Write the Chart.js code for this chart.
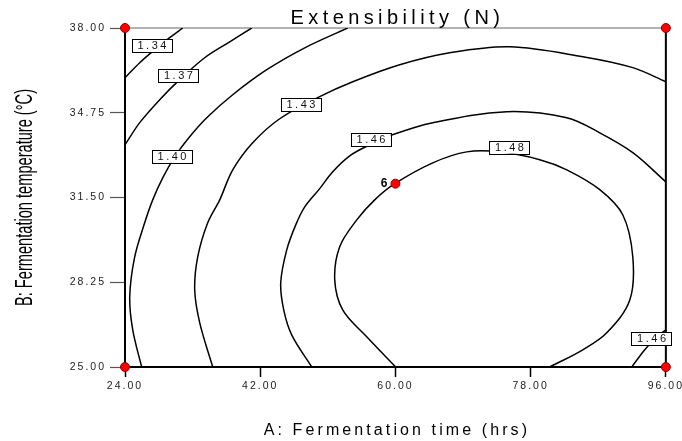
<!DOCTYPE html>
<html><head><meta charset="utf-8">
<script src="https://cdn.jsdelivr.net/npm/chart.js@4.4.1/dist/chart.umd.min.js"></script>
<style>html,body{margin:0;padding:0;background:#fff;overflow:hidden}#wrap{width:682px;height:441px;position:relative}</style>
</head><body><div id="wrap"><canvas id="c" width="682" height="441"></canvas></div>
<script>
// ---- data ----
const chartTitle = 'Extensibility (N)';
const xTitle = 'A: Fermentation time (hrs)';
const yTitle = 'B: Fermentation temperature (\u00B0C)';
const xTicks = [24, 42, 60, 78, 96];
const yTicks = [25, 28.25, 31.5, 34.75, 38];

const c134x = [31.68, 29.95, 27.95, 25.96, 24];
const c134y = [38, 37.63, 37.17, 36.67, 36.09];
const c137x = [40.87, 37.94, 34.61, 31.28, 28.62, 25.96, 24];
const c137y = [38, 37.47, 36.86, 36.02, 35.25, 34.37, 33.52];
const c140x = [53.65, 47.93, 42.87, 38.34, 34.88, 32.61, 30.62, 29.02, 27.69, 26.62, 25.29, 24.63, 25.03, 26.22];
const c140y = [38, 37.24, 36.40, 35.44, 34.56, 33.83, 33.06, 32.25, 31.41, 30.53, 29.22, 27.69, 26.42, 25];
const c143x = [96, 91.60, 84.94, 75.22, 67.23, 60.57, 54.32, 49.92, 44.60, 41.00, 38.34, 36.61, 35.01, 33.68, 33.28, 33.95, 35.68];
const c143y = [35.94, 36.48, 36.90, 37.28, 37.05, 36.59, 35.94, 35.37, 34.52, 33.60, 32.56, 31.41, 30.53, 29.22, 27.96, 26.69, 25];
const c146x = [96, 91.60, 87.20, 82.81, 74.82, 64.97, 59.24, 56.58, 53.92, 51.65, 49.92, 47.93, 46.73, 45.53, 44.73, 45.13, 46.19, 48.86];
const c146y = [32.10, 33.22, 33.98, 34.56, 34.79, 34.37, 33.87, 33.52, 33.10, 32.49, 31.84, 31.14, 30.45, 29.49, 28.23, 27.19, 26.23, 25];
const c146bx = [91.46, 93.19, 94.79, 96];
const c146by = [25, 25.66, 26.16, 26.42];
const c148x = [60.04, 56.18, 52.98, 51.92, 52.58, 54.85, 57.24, 59.91, 64.97, 69.49, 73.89, 79.21, 82.81, 87.20, 90.26, 91.60, 91.20, 88.13, 84.94, 80.54];
const c148y = [25, 26.16, 27.19, 28.34, 29.61, 30.64, 31.41, 32.03, 32.83, 33.25, 33.25, 32.95, 32.56, 31.80, 30.84, 29.22, 27.57, 26.31, 25.66, 25];

const contourXs = [c134x, c137x, c140x, c143x, c146x, c146bx, c148x];
const contourYs = [c134y, c137y, c140y, c143y, c146y, c146by, c148y];

const labelText = ['1.34', '1.37', '1.40', '1.43', '1.46', '1.48', '1.46'];
const labelX = [27.55, 31.08, 30.22, 47.39, 56.71, 75.15, 94.06];
const labelY = [37.32, 36.17, 33.08, 35.06, 33.71, 33.43, 26.08];

const designX = [24, 96, 24, 96, 60];
const designY = [38, 38, 25, 25, 32.03];
const designLabel = ['', '', '', '', '6'];

// ---- chart ----
const FONT = '"Liberation Sans", Arial, sans-serif';
Chart.defaults.font.family = FONT;

const toPts = (xs, ys) => xs.map((x, i) => ({ x: x, y: ys[i] }));

const datasets = [{
  label: 'design points',
  data: toPts(designX, designY),
  showLine: false,
  pointRadius: 4.5,
  pointHoverRadius: 4.5,
  backgroundColor: '#ff0000',
  borderColor: '#8a0000',
  borderWidth: 1,
  clip: false
}];
contourXs.forEach((xs, k) => {
  datasets.push({
    label: 'c' + k,
    data: toPts(xs, contourYs[k]),
    showLine: true,
    borderColor: '#000',
    borderWidth: 1.5,
    pointRadius: 0,
    pointHoverRadius: 0,
    tension: 0.35,
    fill: false
  });
});

const decor = {
  id: 'decor',
  beforeDraw(chart) {
    chart.ctx.letterSpacing = '2px';
  },
  beforeDatasetsDraw(chart) {
    const { ctx, chartArea: a } = chart;
    ctx.save();
    ctx.strokeStyle = '#666';
    ctx.lineWidth = 1.2;
    ctx.beginPath(); ctx.moveTo(a.left, a.top); ctx.lineTo(a.right, a.top); ctx.stroke();
    ctx.strokeStyle = '#000';
    ctx.lineWidth = 2;
    ctx.beginPath(); ctx.moveTo(a.right, a.top); ctx.lineTo(a.right, a.bottom); ctx.stroke();
    ctx.restore();
  },
  afterDatasetDraw(chart, args) {
    if (args.index !== 1) return;
    const { ctx, scales } = chart;
    ctx.save();
    ctx.font = '11px ' + FONT;
    ctx.letterSpacing = '2.5px';
    ctx.textBaseline = 'middle';
    ctx.textAlign = 'left';
    labelText.forEach((t, i) => {
      const cx = scales.x.getPixelForValue(labelX[i]);
      const cy = scales.y.getPixelForValue(labelY[i]);
      const w = 40, h = 13;
      ctx.fillStyle = '#fff';
      ctx.fillRect(cx - w / 2, cy - h / 2, w, h);
      ctx.strokeStyle = '#000';
      ctx.lineWidth = 1;
      ctx.strokeRect(Math.round(cx - w / 2) + 0.5, Math.round(cy - h / 2) + 0.5, w, h);
      ctx.fillStyle = '#111';
      const tw = ctx.measureText(t).width;
      ctx.fillText(t, cx - tw / 2 + 1.5, cy + 0.5);
    });
    ctx.restore();
  },
  afterDraw(chart) {
    const { ctx, scales, chartArea: a } = chart;
    ctx.save();
    // design point labels
    ctx.font = 'bold 12px ' + FONT;
    ctx.letterSpacing = '0px';
    ctx.fillStyle = '#000';
    ctx.textAlign = 'right';
    ctx.textBaseline = 'middle';
    designLabel.forEach((t, i) => {
      if (!t) return;
      ctx.fillText(t, scales.x.getPixelForValue(designX[i]) - 8, scales.y.getPixelForValue(designY[i]) + 0.5);
    });
    const cxPlot = (a.left + a.right) / 2;
    // chart title
    ctx.font = '20px ' + FONT;
    ctx.letterSpacing = '4.4px';
    ctx.textAlign = 'left';
    ctx.textBaseline = 'alphabetic';
    let w = ctx.measureText(chartTitle).width;
    ctx.fillText(chartTitle, cxPlot - w / 2 + 2, 24);
    // x title
    ctx.font = '16px ' + FONT;
    ctx.letterSpacing = '3.1px';
    w = ctx.measureText(xTitle).width;
    ctx.fillText(xTitle, cxPlot - w / 2 + 1.5, 435);
    // y title (condensed)
    ctx.letterSpacing = '0px';
    ctx.font = '23px ' + FONT;
    w = ctx.measureText(yTitle).width;
    ctx.translate(32, (a.top + a.bottom) / 2);
    ctx.rotate(-Math.PI / 2);
    ctx.scale(217 / w, 1);
    ctx.textAlign = 'center';
    ctx.fillText(yTitle, 0, 0);
    ctx.restore();
  }
};

new Chart(document.getElementById('c'), {
  type: 'scatter',
  data: { datasets: datasets },
  options: {
    responsive: false,
    animation: false,
    events: [],
    layout: { autoPadding: false, padding: { left: 0, right: 16, top: 28, bottom: 0 } },
    plugins: { legend: { display: false }, tooltip: { enabled: false }, title: { display: false } },
    scales: {
      x: {
        type: 'linear', min: 24, max: 96,
        afterBuildTicks: s => { s.ticks = xTicks.map(v => ({ value: v })); },
        afterFit: s => { s.height = 74; },
        ticks: { autoSkip: false, maxRotation: 0, color: '#222', padding: 3, font: { size: 10.5 }, callback: v => Number(v).toFixed(2) },
        grid: { drawOnChartArea: false, drawTicks: true, tickLength: 10, tickColor: '#000', tickWidth: 1.5 },
        border: { display: true, color: '#000', width: 2 }
      },
      y: {
        type: 'linear', min: 25, max: 38,
        afterBuildTicks: s => { s.ticks = yTicks.map(v => ({ value: v })); },
        afterFit: s => { s.width = 125; },
        ticks: { autoSkip: false, color: '#222', padding: 4, font: { size: 10.5 }, callback: v => Number(v).toFixed(2) },
        grid: { drawOnChartArea: false, drawTicks: true, tickLength: 15, tickColor: '#555', tickWidth: 1.2 },
        border: { display: true, color: '#000', width: 2 }
      }
    }
  },
  plugins: [decor]
});
</script>
</body></html>
